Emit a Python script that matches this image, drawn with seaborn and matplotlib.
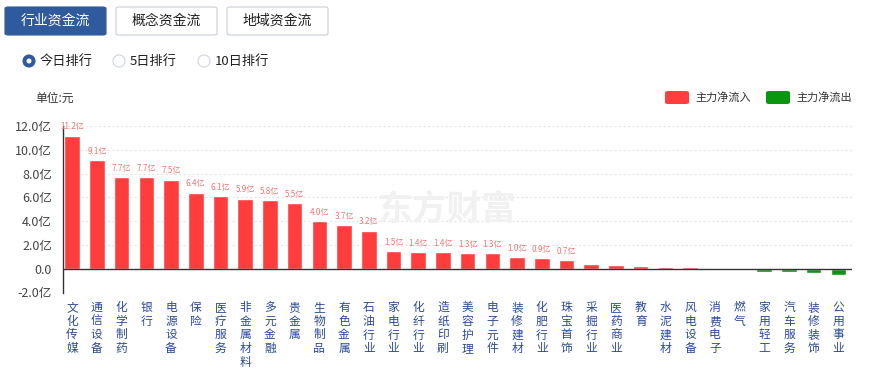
# Industry capital flow bar chart (today's ranking), recreated with seaborn.

import pandas as pd
import seaborn as sns
import matplotlib.pyplot as plt
from matplotlib.patches import FancyBboxPatch, Ellipse

categories = ["文化传媒", "通信设备", "化学制药", "银行", "电源设备", "保险", "医疗服务",
              "非金属材料", "多元金融", "贵金属", "生物制品", "有色金属", "石油行业",
              "家电行业", "化纤行业", "造纸印刷", "美容护理", "电子元件", "装修建材",
              "化肥行业", "珠宝首饰", "采掘行业", "医药商业", "教育", "水泥建材",
              "风电设备", "消费电子", "燃气", "家用轻工", "汽车服务", "装修装饰", "公用事业"]
values = [11.2, 9.1, 7.7, 7.7, 7.5, 6.4, 6.1, 5.9, 5.8, 5.5, 4.0, 3.7, 3.2,
          1.5, 1.4, 1.4, 1.3, 1.3, 1.0, 0.9, 0.7, 0.42, 0.33, 0.25, 0.16,
          0.12, 0.06, -0.05, -0.25, -0.25, -0.38, -0.5]
shown_labels = 21  # echarts only printed labels for the first bars

yticks = [-2, 0, 2, 4, 6, 8, 10, 12]
ytick_labels = ["-2.0亿", "0.0", "2.0亿", "4.0亿", "6.0亿", "8.0亿", "10.0亿", "12.0亿"]

RED = "#ff3d3d"
GREEN = "#0a960f"
BLUE = "#2f5b9c"
FONT = ["Noto Sans CJK SC", "DejaVu Sans"]

W, H = 871, 369


def fx(px):
    return px / W


def fy(py):
    return 1 - py / H


sns.set_style("white")
plt.rcParams["font.family"] = FONT

df = pd.DataFrame({"industry": categories, "flow": values})
df["dir"] = ["in" if v >= 0 else "out" for v in values]

fig = plt.figure(figsize=(W / 100, H / 100), dpi=100)
ax = fig.add_axes([fx(63), fy(292.5), fx(852 - 63), (292.5 - 126) / H])

sns.barplot(data=df, x="industry", y="flow", hue="dir", palette={"in": RED, "out": GREEN},
            dodge=False, width=0.63, legend=False, ax=ax, saturation=1, zorder=2)

ax.set_xlim(-0.37, len(categories) - 0.45)
ax.set_ylim(-2, 12)
ax.set_yticks(yticks, ytick_labels)
ax.set_xticks(range(len(categories)), ["\n".join(c) for c in categories])
ax.tick_params(axis="y", length=0, pad=8, labelsize=9, labelcolor="#444444")
ax.tick_params(axis="x", length=0, pad=6, labelsize=8.5, labelcolor="#2a4a9a")
for lab in ax.get_xticklabels():
    lab.set_linespacing(1.08)
    lab.set_verticalalignment("top")
ax.set_xlabel("")
ax.set_ylabel("")

for y in yticks:
    if y != 0:
        ax.axhline(y, color="#e4e4e4", linestyle=(0, (2, 2)), linewidth=0.8, zorder=0)
ax.axhline(0, color="#333333", linewidth=1.0, zorder=3)

for s in ["top", "right", "bottom"]:
    ax.spines[s].set_visible(False)
ax.spines["left"].set_color("#333333")
ax.spines["left"].set_linewidth(1.0)

for i, v in enumerate(values[:shown_labels]):
    ax.annotate(f"{v:.1f}亿", (i, v), xytext=(0, 3), textcoords="offset points",
                ha="center", va="bottom", fontsize=5.8, color="#f07575", zorder=4)

# watermark sits behind the bars
ax.text(fx(447), fy(209), "东方财富", transform=fig.transFigure, ha="center", va="center",
        fontsize=25, fontweight="bold", color="#f1f1f1", zorder=1)

# unit and legend
fig.text(fx(35), fy(98), "单位:元", ha="left", va="center", fontsize=8.5, color="#333333")
for x0, col, txt in [(665, RED, "主力净流入"), (766, GREEN, "主力净流出")]:
    fig.patches.append(FancyBboxPatch((fx(x0), fy(104)), fx(24), 13 / H,
                                      boxstyle="round,pad=0,rounding_size=0.004",
                                      transform=fig.transFigure, facecolor=col,
                                      edgecolor="none"))
    fig.text(fx(x0 + 30), fy(97.5), txt, ha="left", va="center", fontsize=8, color="#333333")

# tab buttons
for x0, txt, active in [(5, "行业资金流", True), (116, "概念资金流", False), (227, "地域资金流", False)]:
    fig.patches.append(FancyBboxPatch((fx(x0), fy(35)), fx(101), 28 / H,
                                      boxstyle="round,pad=0,rounding_size=0.004",
                                      transform=fig.transFigure,
                                      facecolor=BLUE if active else "white",
                                      edgecolor=BLUE if active else "#c9cfd8",
                                      linewidth=0.8))
    fig.text(fx(x0 + 50.5), fy(21), txt, ha="center", va="center", fontsize=10,
             color="white" if active else "#222222")

# radio options
for cx, txt, active in [(29, "今日排行", True), (119, "5日排行", False), (204, "10日排行", False)]:
    fig.patches.append(Ellipse((fx(cx), fy(61)), 12 / W, 12 / H, transform=fig.transFigure,
                               facecolor=BLUE if active else "white",
                               edgecolor=BLUE if active else "#cfd6e0", linewidth=0.8))
    if active:
        fig.patches.append(Ellipse((fx(cx), fy(61)), 5 / W, 5 / H, transform=fig.transFigure,
                                   facecolor="white", edgecolor="none"))
    fig.text(fx(cx + 11), fy(61), txt, ha="left", va="center", fontsize=9.5, color="#222222")

fig.savefig("out.png", dpi=100)
